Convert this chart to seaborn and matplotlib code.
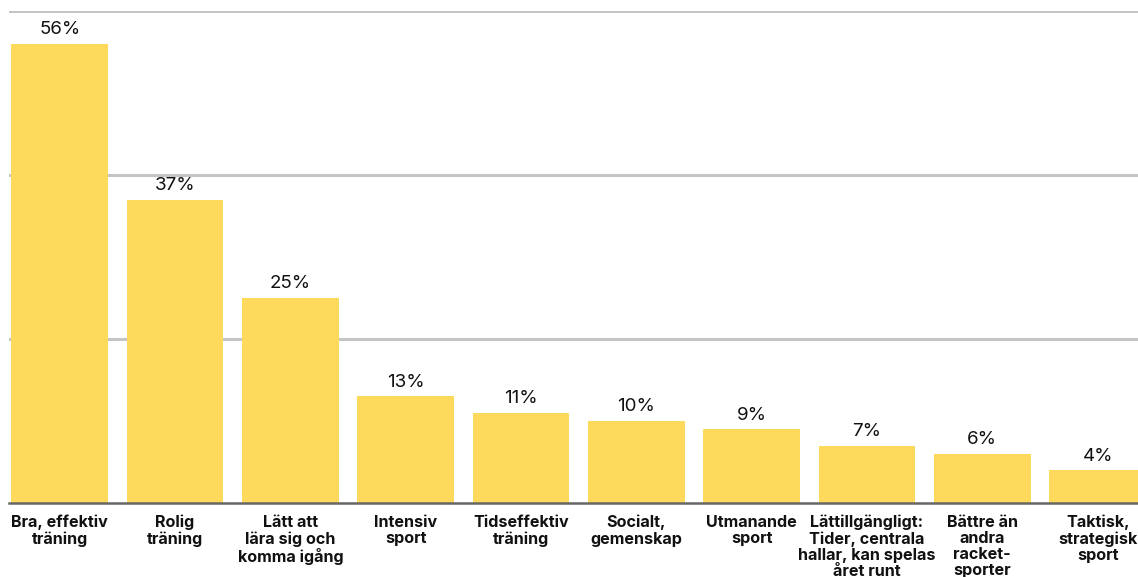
import matplotlib
matplotlib.use("Agg")
import matplotlib.pyplot as plt
import seaborn as sns
import pandas as pd

# Chart data
categories = [
    "Bra, effektiv\nträning",
    "Rolig\nträning",
    "Lätt att\nlära sig och\nkomma igång",
    "Intensiv\nsport",
    "Tidseffektiv\nträning",
    "Socialt,\ngemenskap",
    "Utmanande\nsport",
    "Lättillgängligt:\nTider, centrala\nhallar, kan spelas\nåret runt",
    "Bättre än\nandra\nracket-\nsporter",
    "Taktisk,\nstrategisk\nsport",
]
values = [56, 37, 25, 13, 11, 10, 9, 7, 6, 4]

df = pd.DataFrame({"category": categories, "value": values})

sns.set_style("white")
plt.rcParams["font.family"] = ["Inter", "DejaVu Sans"]

fig = plt.figure(figsize=(11.38, 5.77), dpi=100)
ax = fig.add_axes([9 / 1138, 74 / 577, 1129 / 1138, 492 / 577])

sns.barplot(data=df, x="category", y="value", color="#FDDA5C", width=0.84,
            saturation=1, linewidth=0, ax=ax)

ax.set_xlim(-0.44, 9.35)
ax.set_ylim(0, 60)
ax.set_yticks([20, 40, 60])
ax.yaxis.grid(True, color="#c4c4c4", linewidth=2.2)
ax.set_axisbelow(True)
ax.tick_params(axis="y", left=False, labelleft=False)
ax.tick_params(axis="x", bottom=False, pad=5)
for s in ["top", "right", "left"]:
    ax.spines[s].set_visible(False)
ax.spines["bottom"].set_color("#666666")
ax.spines["bottom"].set_linewidth(1.8)
ax.set_xlabel("")
ax.set_ylabel("")
ax.set_xticks(range(len(categories)))
ax.set_xticklabels(categories, fontsize=11.6, fontweight="bold",
                   color="#111111", linespacing=1.1, va="top")

for i, v in enumerate(values):
    ax.annotate(f"{v}%", (i, v), xytext=(0, 4), textcoords="offset points",
                ha="center", va="bottom", fontsize=13.5, color="#111111")

fig.savefig("out.png", dpi=100)
